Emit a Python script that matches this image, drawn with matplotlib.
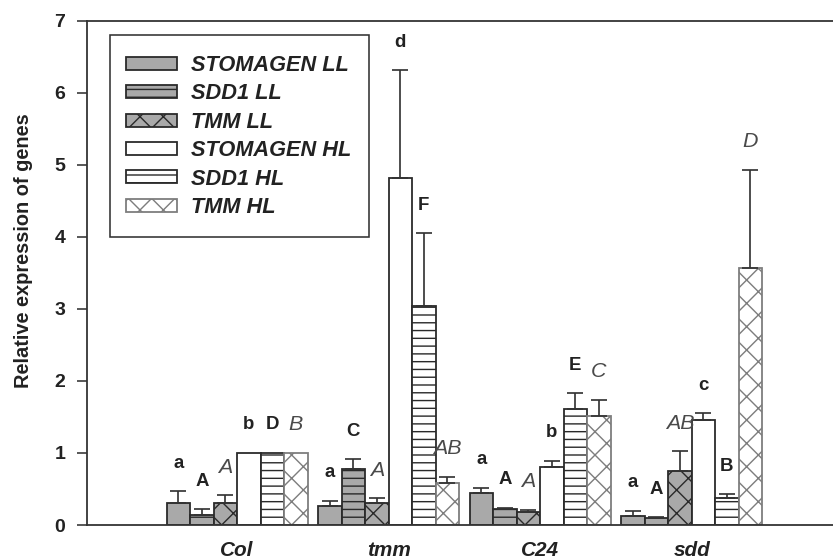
import numpy as np
import matplotlib
matplotlib.use("Agg")
import matplotlib.pyplot as plt
from matplotlib.patches import Rectangle

DPI = 140
W_PX, H_PX = 833, 559


def pt(px):
    """Convert a pixel length to points at the figure resolution."""
    return px * 72.0 / DPI


# ---- data -------------------------------------------------------------
genotypes = ["Col", "tmm", "C24", "sdd"]
series = ["STOMAGEN LL", "SDD1 LL", "TMM LL", "STOMAGEN HL", "SDD1 HL", "TMM HL"]

stomagen_ll = [0.31, 0.27, 0.44, 0.125]
sdd1_ll = [0.14, 0.78, 0.22, 0.10]
tmm_ll = [0.30, 0.30, 0.18, 0.75]
stomagen_hl = [1.00, 4.82, 0.80, 1.45]
sdd1_hl = [1.00, 3.04, 1.61, 0.37]
tmm_hl = [1.00, 0.58, 1.51, 3.57]

stomagen_ll_err = [0.16, 0.065, 0.08, 0.07]
sdd1_ll_err = [0.08, 0.135, 0.02, 0.01]
tmm_ll_err = [0.11, 0.07, 0.03, 0.27]
stomagen_hl_err = [0.0, 1.49, 0.09, 0.10]
sdd1_hl_err = [0.0, 1.01, 0.22, 0.055]
tmm_hl_err = [0.0, 0.09, 0.23, 1.36]

stomagen_ll_sig = ["a", "a", "a", "a"]
sdd1_ll_sig = ["A", "C", "A", "A"]
tmm_ll_sig = ["A", "A", "A", "AB"]
stomagen_hl_sig = ["b", "d", "b", "c"]
sdd1_hl_sig = ["D", "F", "E", "B"]
tmm_hl_sig = ["B", "AB", "C", "D"]

yticks = [0, 1, 2, 3, 4, 5, 6, 7]

values = [stomagen_ll, sdd1_ll, tmm_ll, stomagen_hl, sdd1_hl, tmm_hl]
errors = [stomagen_ll_err, sdd1_ll_err, tmm_ll_err,
          stomagen_hl_err, sdd1_hl_err, tmm_hl_err]
letters = [stomagen_ll_sig, sdd1_ll_sig, tmm_ll_sig,
           stomagen_hl_sig, sdd1_hl_sig, tmm_hl_sig]

# ---- styles -----------------------------------------------------------
GRAY = "#a9a9a9"
EDGE = "#2a2a2a"
styles = [
    dict(facecolor=GRAY, edgecolor=EDGE, hatch=None),
    dict(facecolor=GRAY, edgecolor=EDGE, hatch="---"),
    dict(facecolor=GRAY, edgecolor=EDGE, hatch="xx"),
    dict(facecolor="white", edgecolor=EDGE, hatch=None),
    dict(facecolor="white", edgecolor=EDGE, hatch="---"),
    dict(facecolor="white", edgecolor="#7d7d7d", hatch="xx"),
]
bold_letter = dict(fontweight="bold", fontstyle="normal", fontsize=9.6,
                   color="#222222")
ital_letter = dict(fontweight="normal", fontstyle="italic", fontsize=11.0,
                   color="#4a4a4a")
letter_styles = [bold_letter, bold_letter, ital_letter,
                 bold_letter, bold_letter, ital_letter]

plt.rcParams["font.family"] = ["Liberation Sans", "DejaVu Sans"]
plt.rcParams["hatch.linewidth"] = 0.72

fig = plt.figure(figsize=(W_PX / DPI, H_PX / DPI), dpi=DPI)
ax_left, ax_right = 86.7 / W_PX, 1.0
ax_bottom, ax_top = 1 - 525.0 / H_PX, 1 - 20.5 / H_PX
ax = fig.add_axes([ax_left, ax_bottom, ax_right - ax_left, ax_top - ax_bottom])

x = np.arange(len(genotypes))
width = 0.155
n = len(series)

for i, (name, vals, errs, sty) in enumerate(zip(series, values, errors, styles)):
    xs = x + (i - (n - 1) / 2) * width
    ax.bar(xs, vals, width=width, label=name, linewidth=pt(1.8),
           zorder=2, **sty)
    vals_a = np.asarray(vals)
    errs_a = np.asarray(errs)
    keep = errs_a > 0
    ax.errorbar(xs[keep], vals_a[keep],
                yerr=[np.zeros(keep.sum()), errs_a[keep]],
                fmt="none", ecolor="#333333", elinewidth=pt(1.7),
                capsize=pt(8.5), capthick=pt(1.7), zorder=3)
    for xi, v, e, lab in zip(xs, vals, errs, letters[i]):
        ax.annotate(lab, xy=(xi, v + e), xytext=(0, pt(28)),
                    textcoords="offset points", ha="center", va="center",
                    zorder=4, **letter_styles[i])

# ---- axes -------------------------------------------------------------
ax.set_xlim(-0.993, 3.933)
ax.set_ylim(0, 7)
ax.set_yticks(yticks)
ax.set_yticklabels([str(t) for t in yticks], fontweight="bold",
                   fontsize=10.0, color="#222222")
ax.set_xticks(x)
ax.set_xticklabels(genotypes, fontweight="bold", fontstyle="italic",
                   fontsize=10.7, color="#222222")
ax.tick_params(axis="x", length=0, pad=pt(16))
ax.tick_params(axis="y", direction="out", length=pt(10), width=pt(1.6),
               pad=pt(11.5), color="#333333")

for side in ("left", "bottom", "top"):
    ax.spines[side].set_linewidth(pt(1.8))
    ax.spines[side].set_color("#333333")
ax.spines["right"].set_visible(False)

ax.set_ylabel("Relative expression of genes", fontweight="bold",
              fontsize=10.3, color="#222222")
ax.yaxis.set_label_coords(-0.0722, 0.543)

# legend entries without their own frame, boxed by a separate rectangle
leg = ax.legend(loc="upper left", bbox_to_anchor=(0.0527, 0.9316),
                borderaxespad=0, frameon=False, borderpad=0,
                prop=dict(weight="bold", style="italic", size=11.2),
                handlelength=2.34, handleheight=0.55, handletextpad=0.63,
                labelspacing=0.34)
for t in leg.get_texts():
    t.set_color("#222222")
ax.add_patch(Rectangle((0.0312, 0.5709), 0.347, 0.4004,
                       transform=ax.transAxes, fill=False,
                       edgecolor="#333333", linewidth=pt(1.6), zorder=5))

fig.savefig("out.png", dpi=DPI)
